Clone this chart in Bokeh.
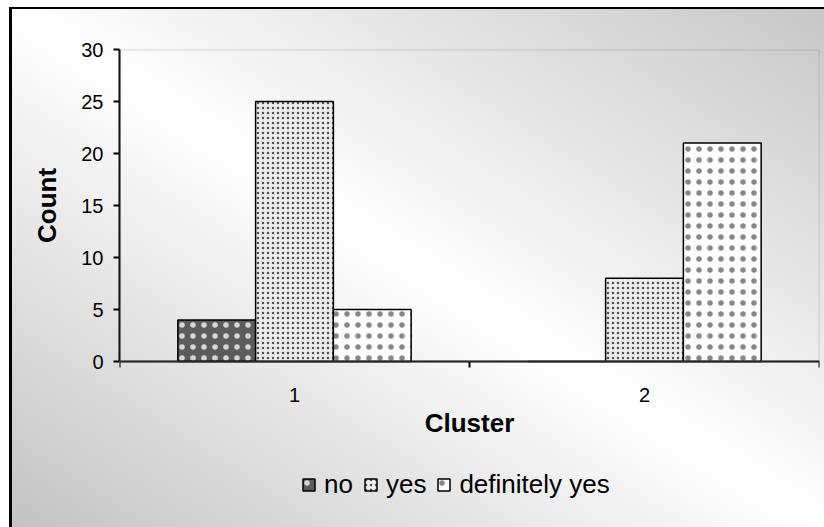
from bokeh.plotting import figure
from bokeh.models import (Range1d, FixedTicker, Legend, LegendItem, ColumnDataSource,
                          BoxAnnotation)
from bokeh.embed import file_html
from bokeh.resources import INLINE

# ---- data ----
clusters = ["1", "2"]
series_names = ["no", "yes", "definitely yes"]
no_vals = [4, 0]
yes_vals = [25, 8]
def_yes_vals = [5, 21]
y_ticks = [0, 5, 10, 15, 20, 25, 30]
y_max = 30
x_title = "Cluster"
y_title = "Count"

series_values = [no_vals, yes_vals, def_yes_vals]

FONT = "Liberation Sans"

# layout (pixels)
W, H = 824, 527
FRAME_L, FRAME_R, FRAME_T, AXIS_Y = 119, 819, 49, 361
px_per_unit = (AXIS_Y - FRAME_T) / y_max
y_low = -(H - AXIS_Y) / px_per_unit

p = figure(width=W, height=H, output_backend="svg", toolbar_location=None,
           x_range=Range1d(0, len(clusters)), y_range=Range1d(y_low, y_max),
           min_border_left=FRAME_L, min_border_right=W - FRAME_R,
           min_border_top=FRAME_T, min_border_bottom=0)

p.styles = {
    "background": ("linear-gradient(#000,#000) 9px 7px / 3px 100% no-repeat, "
                   "linear-gradient(#000,#000) 9px 7px / 100% 2px no-repeat, "
                   "linear-gradient(to top right, #c2c2c2 0%, #ffffff 50%, #c6c6c6 100%) 9px 7px / 100% 100% no-repeat, "
                   "#ffffff"),
}
p.background_fill_alpha = 0
p.border_fill_alpha = 0
p.outline_line_color = None
p.grid.visible = False

# plot-area border (grey top/right like the original)
p.add_layout(BoxAnnotation(left=0, right=len(clusters), bottom=0, top=y_max,
                           fill_alpha=0, line_color="#808080", line_width=2))

n = len(series_names)
bar_w = 1.0 / (n + 1.5)
styles = [
    dict(fill_color="#5c5c5c", hatch_pattern=".", hatch_color="white", hatch_scale=11, hatch_alpha=0.75),
    dict(fill_color="#ececec", hatch_pattern=".", hatch_color="#505050", hatch_scale=5),
    dict(fill_color="white", hatch_pattern=".", hatch_color="#555555", hatch_scale=11, hatch_alpha=0.7),
]

items = []
for k, (name, vals) in enumerate(zip(series_names, series_values)):
    xs = [i + 0.5 + (k - (n - 1) / 2) * bar_w for i in range(len(clusters))]
    src = ColumnDataSource(dict(x=xs, top=vals))
    r = p.vbar(x="x", top="top", width=bar_w, bottom=0, source=src,
               line_color="black", line_width=1.5, **styles[k])
    items.append(LegendItem(label=name, renderers=[r]))

xa = p.xaxis[0]
xa.fixed_location = 0
xa.ticker = FixedTicker(ticks=[i + 0.5 for i in range(len(clusters))],
                        minor_ticks=list(range(len(clusters) + 1)))
xa.major_label_overrides = {i + 0.5: c for i, c in enumerate(clusters)}
xa.major_tick_line_color = None
xa.major_tick_in = 0
xa.major_tick_out = 0
xa.minor_tick_in = 0
xa.minor_tick_out = 6
xa.minor_tick_line_color = "black"
xa.minor_tick_line_width = 2
xa.axis_line_color = "black"
xa.axis_line_width = 2
xa.major_label_standoff = 20
xa.major_label_text_font = FONT
xa.major_label_text_font_size = "20px"
xa.major_label_text_color = "black"
xa.axis_label = x_title
xa.axis_label_text_font = FONT
xa.axis_label_text_font_size = "26px"
xa.axis_label_text_font_style = "bold"
xa.axis_label_text_color = "black"
xa.axis_label_standoff = 3

ya = p.yaxis[0]
ya.bounds = (0, y_max)
ya.ticker = FixedTicker(ticks=y_ticks)
ya.minor_tick_line_color = None
ya.major_tick_in = 0
ya.major_tick_out = 6
ya.major_tick_line_width = 2
ya.major_tick_line_color = "black"
ya.axis_line_color = "black"
ya.axis_line_width = 2
ya.major_label_standoff = 10
ya.major_label_text_font = FONT
ya.major_label_text_font_size = "20px"
ya.major_label_text_color = "black"
# the axis title is centred on the whole frame; leading no-break spaces lift it
# to the middle of the 0..30 part of the axis, as in the original
ya.axis_label = "\u00a0" * 23 + y_title
ya.axis_label_text_font = FONT
ya.axis_label_text_font_size = "26px"
ya.axis_label_text_font_style = "bold"
ya.axis_label_text_color = "black"
ya.axis_label_standoff = 16

legend = Legend(items=items, orientation="horizontal", location=(182, 27),
                label_text_font=FONT, label_text_font_size="26px", label_text_color="black",
                glyph_width=15, glyph_height=15, label_standoff=8, spacing=10,
                padding=5, margin=0, border_line_color=None, background_fill_alpha=0)
p.add_layout(legend, "center")

open("out.html", "w").write(file_html(p, INLINE))
